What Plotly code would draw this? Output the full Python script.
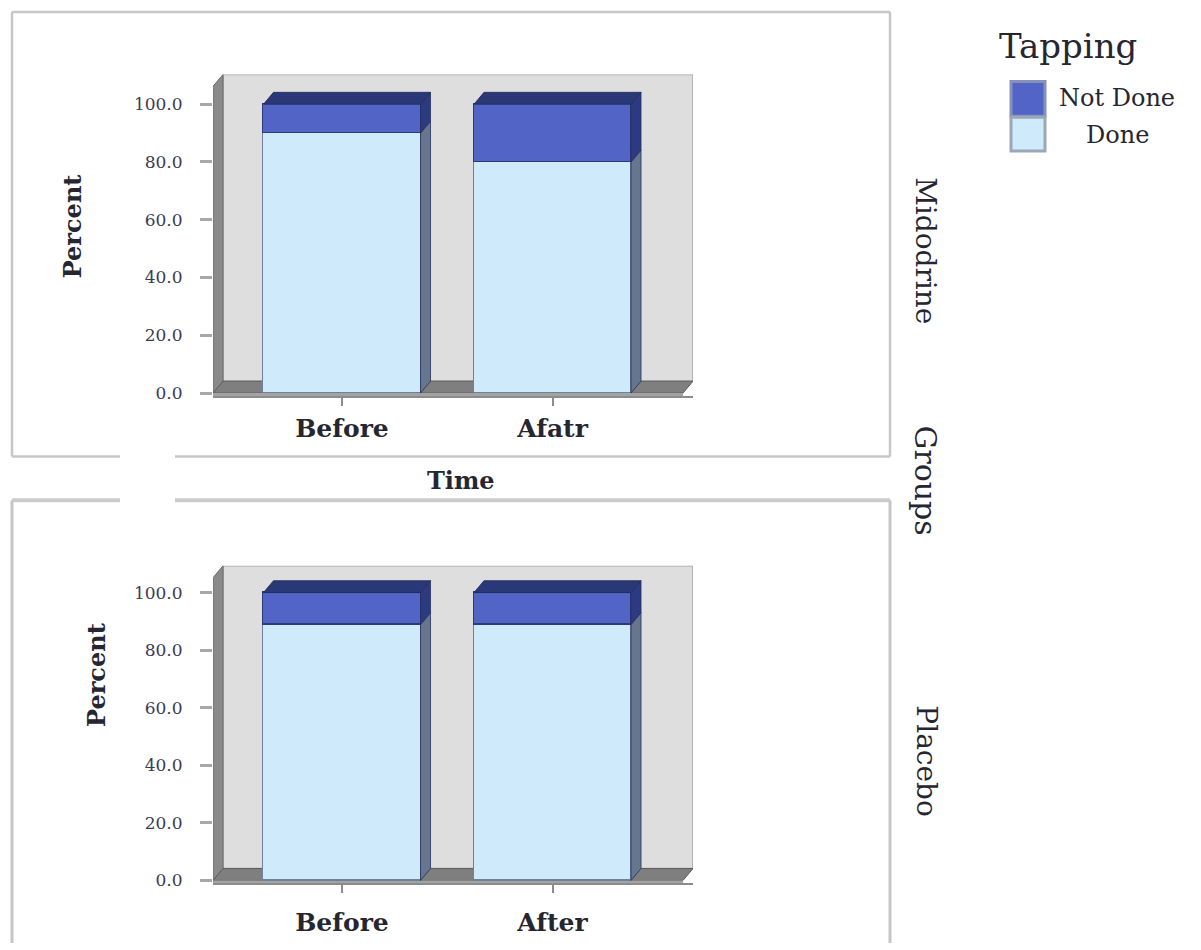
import plotly.graph_objects as go

W, H = 1201, 950

# ---------------- data ----------------
groups = ["Midodrine", "Placebo"]
time_labels_midodrine = ["Before", "Afatr"]
time_labels_placebo = ["Before", "After"]
done_midodrine = [90.0, 80.0]
not_done_midodrine = [10.0, 20.0]
done_placebo = [88.9, 88.9]
not_done_placebo = [11.1, 11.1]
series_names = ["Done", "Not Done"]
y_tick_values = [0, 20, 40, 60, 80, 100]

# ---------------- styling ----------------
FONT = "DejaVu Serif"
TEXT = "#262630"
DONE_FRONT, DONE_SIDE, DONE_EDGE = "#cfeafb", "#66768f", "#6f809a"
NOT_FRONT, NOT_SIDE, NOT_TOP, NOT_EDGE = "#5265c6", "#2c3a82", "#2b3878", "#2d3a7a"
WALL, WALL_EDGE = "#dedede", "#a6a6a6"
WALL_SIDE, FLOOR_TOP, FLOOR_FRONT = "#8a8a8a", "#7f7f7f", "#a3a3a3"
FRAME = "#c6c6c6"

DEPTH_X, DEPTH_Y = 10, 12      # pixel depth of the 3-D extrusion
BAR_WIDTH = 0.746              # in category units

# pixel layout of each panel (front plane of the box)
panels = [
    dict(group=groups[0], done=done_midodrine, not_done=not_done_midodrine,
         labels=time_labels_midodrine, left=213, right=693, top=75, bottom=399,
         zero=396, hundred=105, c0=342, c1=552.5, standoff=1, suffix=""),
    dict(group=groups[1], done=done_placebo, not_done=not_done_placebo,
         labels=time_labels_placebo, left=213, right=693, top=570, bottom=890,
         zero=887, hundred=597, c0=342, c1=552.5, standoff=8, suffix="2"),
]


def px(x):
    return x / W


def py(y):
    return 1 - y / H


fig = go.Figure()
shapes = []
layout_axes = {}

for p in panels:
    s = p["suffix"]
    xref, yref = "x" + s, "y" + s
    ppx = p["c1"] - p["c0"]
    ppy = (p["zero"] - p["hundred"]) / 100.0
    xr = [(p["left"] - p["c0"]) / ppx, (p["right"] - p["c0"]) / ppx]
    yr = [-(p["bottom"] - p["zero"]) / ppy, (p["zero"] - p["top"]) / ppy]
    dxu, dyu = DEPTH_X / ppx, DEPTH_Y / ppy
    xL, xR, yT, yB = xr[0], xr[1], yr[1], yr[0]
    front_r = xR - dxu

    # back wall, side wall and floor of the box
    shapes += [
        dict(type="rect", xref=xref, yref=yref, x0=xL + dxu, x1=xR, y0=dyu, y1=yT,
             fillcolor=WALL, line=dict(color=WALL_EDGE, width=1.5), layer="below"),
        dict(type="path", xref=xref, yref=yref, layer="below",
             path=f"M{xL},{0} L{xL + dxu},{dyu} L{xL + dxu},{yT} L{xL},{yT - dyu} Z",
             fillcolor=WALL_SIDE, line=dict(color="#6c6c6c", width=1)),
        dict(type="path", xref=xref, yref=yref, layer="below",
             path=f"M{xL},{0} L{front_r},{0} L{xR},{dyu} L{xL + dxu},{dyu} Z",
             fillcolor=FLOOR_TOP, line=dict(color="#5c5c5c", width=1)),
        dict(type="rect", xref=xref, yref=yref, x0=xL, x1=front_r, y0=yB, y1=0,
             fillcolor=FLOOR_FRONT, line=dict(width=0), layer="below"),
    ]

    idx = list(range(len(p["labels"])))
    fig.add_trace(go.Bar(
        x=idx, y=p["done"], name=series_names[0], width=BAR_WIDTH,
        marker=dict(color=DONE_FRONT, line=dict(color=DONE_EDGE, width=1.5)),
        xaxis=xref, yaxis=yref, showlegend=False))
    fig.add_trace(go.Bar(
        x=idx, y=p["not_done"], name=series_names[1], width=BAR_WIDTH,
        marker=dict(color=NOT_FRONT, line=dict(color=NOT_EDGE, width=1.5)),
        xaxis=xref, yaxis=yref, showlegend=False))

    # extruded side and top faces of every stacked segment
    for i, (d, n) in enumerate(zip(p["done"], p["not_done"])):
        bx0, bx1 = i - BAR_WIDTH / 2, i + BAR_WIDTH / 2
        for y0, y1, col in ((0, d, DONE_SIDE), (d, d + n, NOT_SIDE)):
            shapes.append(dict(
                type="path", xref=xref, yref=yref, layer="above",
                path=f"M{bx1},{y0} L{bx1 + dxu},{y0 + dyu} L{bx1 + dxu},{y1 + dyu} L{bx1},{y1} Z",
                fillcolor=col, line=dict(color="#27305e", width=0.8)))
        top = d + n
        shapes.append(dict(
            type="path", xref=xref, yref=yref, layer="above",
            path=f"M{bx0},{top} L{bx0 + dxu},{top + dyu} L{bx1 + dxu},{top + dyu} L{bx1},{top} Z",
            fillcolor=NOT_TOP, line=dict(color="#1f2858", width=0.8)))

    layout_axes["xaxis" + s] = dict(
        domain=[px(p["left"]), px(p["right"])], range=xr, anchor=yref,
        tickmode="array", tickvals=idx, ticktext=p["labels"],
        showgrid=False, zeroline=False, showline=True, linecolor="#8c8c8c",
        linewidth=2, ticks="outside", ticklen=8, tickwidth=1.5, tickcolor="#8c8c8c",
        ticklabelstandoff=p["standoff"],
        tickfont=dict(family=FONT, size=25, color=TEXT, weight="bold"),
        fixedrange=True)
    layout_axes["yaxis" + s] = dict(
        domain=[py(p["bottom"]), py(p["top"])], range=yr, anchor=xref,
        tickmode="array", tickvals=y_tick_values,
        ticktext=[f"{v:.1f}" for v in y_tick_values],
        showgrid=False, zeroline=False, showline=False,
        ticks="outside", ticklen=12, tickwidth=3, tickcolor="#a8a8a8",
        ticklabelstandoff=14,
        tickfont=dict(family=FONT, size=17, color="#3b3b55"),
        fixedrange=True)

# panel frames
def seg(x0, y0, x1, y1, width=2.5, color=FRAME):
    return dict(type="line", xref="paper", yref="paper", x0=px(x0), y0=py(y0),
                x1=px(x1), y1=py(y1), line=dict(color=color, width=width))

shapes += [
    seg(12, 12, 890, 12), seg(12, 12, 12, 460), seg(890, 12, 890, 460),
    seg(12, 460, 120, 460), seg(175, 460, 890, 460),
    seg(12, 504, 120, 504, 4, "#cbcbcb"), seg(175, 504, 890, 504, 4, "#cbcbcb"),
    seg(12, 504, 12, 950, 3), seg(890, 504, 890, 950, 3),
]

# legend swatches
legend_rows = [(series_names[1], NOT_FRONT, "#8790b8", 82, 117, 99),
               (series_names[0], DONE_FRONT, "#9aa7b6", 118, 152, 136)]
annotations = []
for name, fill, edge, ya, yb, yc in legend_rows:
    shapes.append(dict(type="rect", xref="paper", yref="paper",
                       x0=px(1011), x1=px(1045), y0=py(yb), y1=py(ya),
                       fillcolor=fill, line=dict(color=edge, width=3)))
    annotations.append(dict(text=name, x=px(1117), y=py(yc), xref="paper", yref="paper",
                            showarrow=False, xanchor="center", yanchor="middle",
                            font=dict(family=FONT, size=24, color=TEXT)))


def label(text, x, y, size, angle=0, bold=False):
    return dict(text=text, x=px(x), y=py(y), xref="paper", yref="paper",
                showarrow=False, xanchor="center", yanchor="middle", textangle=angle,
                font=dict(family=FONT, size=size, color=TEXT,
                          weight="bold" if bold else "normal"))


annotations += [
    label("Tapping", 1068, 46, 34),
    label("Percent", 72, 228, 24, -90, True),
    label("Percent", 97, 680, 24, -90, True),
    label("Time", 461, 484, 24, 0, True),
    label(groups[0], 926, 252, 28, 90),
    label("Groups", 926, 484, 30, 90),
    label(groups[1], 927, 767, 28, 90),
]

fig.update_layout(
    width=W, height=H, autosize=False,
    margin=dict(l=0, r=0, t=0, b=0),
    paper_bgcolor="white", plot_bgcolor="rgba(0,0,0,0)",
    barmode="stack", bargap=0,
    showlegend=False,
    shapes=shapes, annotations=annotations,
    **layout_axes,
)

fig.write_html("out.html")
